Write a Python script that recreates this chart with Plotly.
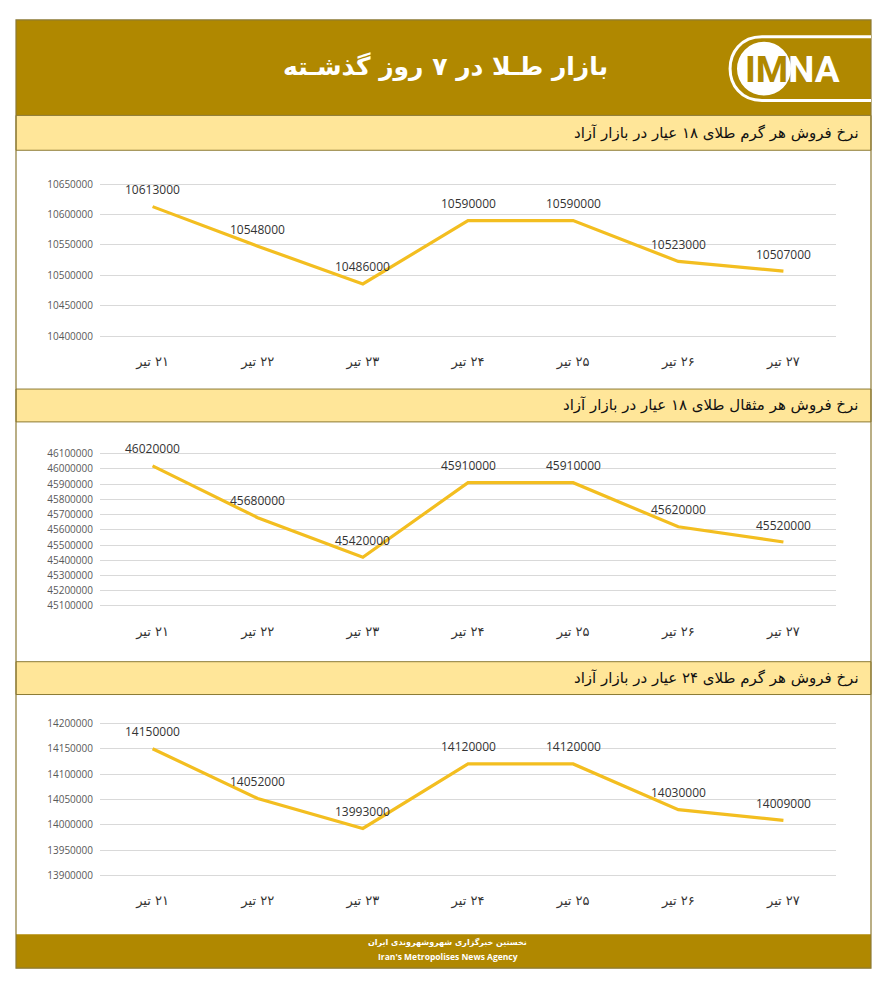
import plotly.graph_objects as go

# ---------------- data ----------------
days = ["۲۱ تیر", "۲۲ تیر", "۲۳ تیر", "۲۴ تیر", "۲۵ تیر", "۲۶ تیر", "۲۷ تیر"]
gram18 = [10613000, 10548000, 10486000, 10590000, 10590000, 10523000, 10507000]
mesghal18 = [46020000, 45680000, 45420000, 45910000, 45910000, 45620000, 45520000]
gram24 = [14150000, 14052000, 13993000, 14120000, 14120000, 14030000, 14009000]

title_text = "بازار طـلا در ۷ روز گذشـته"
section_titles = [
    "نرخ فروش هر گرم طلای ۱۸ عیار در بازار آزاد",
    "نرخ فروش هر مثقال طلای ۱۸ عیار در بازار آزاد",
    "نرخ فروش هر گرم طلای ۲۴ عیار در بازار آزاد",
]
footer_fa = "نخستین خبرگزاری شهروشهروندی ایران"
footer_en = "Iran's Metropolises News Agency"

# y-axis tick settings per chart: (min tick, max tick, step)
ticks_cfg = [
    (10400000, 10650000, 50000),
    (45100000, 46100000, 100000),
    (13900000, 14200000, 50000),
]
series = [gram18, mesghal18, gram24]

# ---------------- layout helpers ----------------
W, H = 888, 1000
def px(x):
    return x / W
def py(y):
    return 1 - y / H

GOLD = "#B08800"
LIGHT = "#FFE699"
BORDER = "#8C7A35"
LINE = "#F3BE20"
FONT_FA = "DejaVu Sans"
RLM = "\u200f"

# pixel positions of top/bottom gridlines per chart
grid_px = [(182, 335), (453, 606), (724, 877)]
X0, X1 = 100, 836

fig = go.Figure()
shapes = []
annotations = []

for i, (vals, (vmin, vmax, step), (ytop, ybot)) in enumerate(zip(series, ticks_cfg, grid_px)):
    n = i + 1
    xa = "x" if n == 1 else f"x{n}"
    ya = "y" if n == 1 else f"y{n}"
    pad = 0.03
    span_px = ybot - ytop
    span_v = vmax - vmin
    rng = [vmin - pad * span_v, vmax + pad * span_v]
    dom = [py(ybot + pad * span_px), py(ytop - pad * span_px)]
    fig.add_trace(go.Scatter(
        x=days, y=vals, mode="lines", xaxis=xa, yaxis=ya,
        line=dict(color=LINE, width=3.2), hoverinfo="x+y", showlegend=False,
    ))
    for d, v in zip(days, vals):
        annotations.append(dict(
            x=d, y=v, xref=xa, yref=ya, text=str(v), showarrow=False,
            xanchor="center", yanchor="middle",
            yshift=17, font=dict(family="Open Sans, DejaVu Sans", size=12, color="#333333"),
        ))
    xkey = "xaxis" if n == 1 else f"xaxis{n}"
    ykey = "yaxis" if n == 1 else f"yaxis{n}"
    fig.update_layout(**{
        xkey: dict(domain=[px(X0), px(X1)], anchor=ya, type="category",
                   range=[-0.5, 6.5], showgrid=False, showline=False, zeroline=False,
                   ticks="", ticklabelstandoff=11,
                   tickvals=days, ticktext=[RLM + d for d in days],
                   tickfont=dict(family=FONT_FA, size=13, color="#333333")),
        ykey: dict(domain=dom, anchor=xa, range=rng, tickmode="linear",
                   tick0=vmin, dtick=step, tickformat="d", showgrid=True,
                   gridcolor="#D9D9D9", gridwidth=1, zeroline=False, showline=False,
                   ticks="", ticklabelstandoff=6,
                   tickfont=dict(family="Open Sans, DejaVu Sans", size=10, color="#595959")),
    })

# ---------------- decorations ----------------
# header
shapes.append(dict(type="rect", xref="paper", yref="paper", x0=px(16), x1=px(871),
                   y0=py(113), y1=py(17), fillcolor=GOLD, line=dict(width=0), layer="below"))
# section bars
bars = [(113, 148), (388, 421), (662, 695)]
for (t, b) in bars:
    shapes.append(dict(type="rect", xref="paper", yref="paper", x0=px(16), x1=px(871),
                       y0=py(b), y1=py(t), fillcolor=LIGHT,
                       line=dict(color=BORDER, width=1), layer="below"))
# footer
shapes.append(dict(type="rect", xref="paper", yref="paper", x0=px(16), x1=px(871),
                   y0=py(970), y1=py(936), fillcolor=GOLD, line=dict(width=0), layer="below"))
# outer frame
shapes.append(dict(type="rect", xref="paper", yref="paper", x0=px(16), x1=px(871),
                   y0=py(970), y1=py(17), fillcolor="rgba(0,0,0,0)",
                   line=dict(color=BORDER, width=1.2), layer="above"))

# logo: pill outline + circle
r = 32
cx, cy = 762, 66
pill = (f"M {px(871)},{py(cy - r)} L {px(cx)},{py(cy - r)} "
        f"C {px(cx - 1.33 * r)},{py(cy - r)} {px(cx - 1.33 * r)},{py(cy + r)} {px(cx)},{py(cy + r)} "
        f"L {px(871)},{py(cy + r)}")
shapes.append(dict(type="path", xref="paper", yref="paper", path=pill,
                   line=dict(color="white", width=3), layer="above"))
shapes.append(dict(type="circle", xref="paper", yref="paper",
                   x0=px(737), x1=px(791), y0=py(93), y1=py(39),
                   fillcolor="white", line=dict(width=0), layer="above"))

def ann(x, y, text, font, xanchor="center"):
    return dict(x=px(x), y=py(y), xref="paper", yref="paper", text=text, showarrow=False,
                xanchor=xanchor, yanchor="middle", font=font)

logo_text = f"<b><span style='color:{GOLD}'>IM</span>NA</b>"
annotations += [
    ann(743, 67, logo_text, dict(family="Roboto, Liberation Sans", size=37, color="white"),
        xanchor="left"),
    ann(445, 64, f"<b>{title_text}</b>", dict(family=FONT_FA, size=25, color="white")),
    ann(448, 944, f"<b>{footer_fa}</b>", dict(family=FONT_FA, size=8, color="white")),
    ann(448, 958, f"<b>{footer_en}</b>", dict(family="Open Sans, DejaVu Sans", size=8.5, color="white")),
]
for (t, b), s in zip(bars, section_titles):
    annotations.append(ann(861, (t + b) / 2, s,
                           dict(family=FONT_FA, size=15, color="#111111"), xanchor="right"))

fig.update_layout(
    width=W, height=H, margin=dict(l=0, r=0, t=0, b=0),
    paper_bgcolor="white", plot_bgcolor="white",
    shapes=shapes, annotations=annotations, showlegend=False,
)

fig.write_html("out.html", config={"displayModeBar": False},
               post_script="document.body.style.margin='0px';document.body.style.padding='0px';")
